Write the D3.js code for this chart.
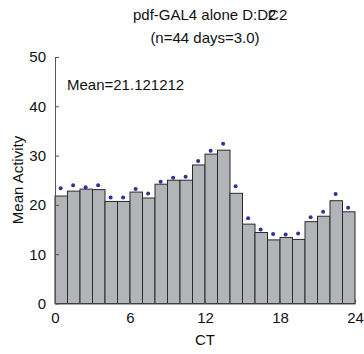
<!DOCTYPE html>
<html><head><meta charset="utf-8">
<script src="https://cdn.jsdelivr.net/npm/d3@7"></script>
<style>
html,body{margin:0;padding:0;background:#fff;}
svg{display:block;font-family:"Liberation Sans",Arial,sans-serif;}
</style></head>
<body>
<svg id="c" width="364" height="354"></svg>
<script>
const hours = d3.range(24);
const barValues = [21.8,22.8,23.2,23.1,20.7,20.7,22.6,21.4,24.2,25.0,25.0,28.1,30.3,31.1,22.35,16.1,14.4,12.9,13.4,13.0,16.6,17.7,20.85,18.6];
const dotValues = [23.4,24.0,23.6,24.0,21.5,21.5,23.2,22.3,24.7,25.5,25.7,28.9,31.0,32.4,23.8,17.3,15.0,14.1,14.0,14.2,17.5,18.6,22.2,19.4];
const xTicks = [0,6,12,18,24];
const yTicks = [0,10,20,30,40,50];
const titleLine1 = "pdf-GAL4 alone D:DC2";
const titleOverlay = "2";
const titleLine2 = "(n=44 days=3.0)";
const meanLabel = "Mean=21.121212";

const svg = d3.select("#c");
const x = d3.scaleLinear().domain([0,24]).range([55,355]);
const y = d3.scaleLinear().domain([0,50]).range([303.5,57]);

// bars
svg.append("g").selectAll("rect").data(hours).join("rect")
  .attr("x", d => x(d))
  .attr("y", d => y(barValues[d]))
  .attr("width", d => x(d+1)-x(d))
  .attr("height", d => y(0)-y(barValues[d]))
  .attr("fill", "#b3b4b8")
  .attr("stroke", "#2a2a2a")
  .attr("stroke-width", 1);

// dots
svg.append("g").selectAll("circle").data(hours).join("circle")
  .attr("cx", d => x(d+0.45))
  .attr("cy", d => y(dotValues[d]))
  .attr("r", 2)
  .attr("fill", "#2c3399");

// axes
const yAxis = d3.axisLeft(y).tickValues(yTicks).tickSizeInner(-4).tickSizeOuter(0).tickPadding(9);
const gy = svg.append("g").attr("transform","translate(55,0)").call(yAxis);
const xAxis = d3.axisBottom(x).tickValues(xTicks).tickSizeInner(-4).tickSizeOuter(0).tickPadding(9);
const gx = svg.append("g").attr("transform","translate(0,303.5)").call(xAxis);
[gx,gy].forEach(g=>{
  g.select(".domain").attr("stroke","#555");
  g.selectAll(".tick line").attr("stroke","#555");
  g.selectAll("text").attr("font-size",15).attr("fill","#111").attr("font-family","Liberation Sans, Arial, sans-serif");
});

// labels
svg.append("text").attr("x",205).attr("y",345).attr("text-anchor","middle")
  .attr("font-size",15).attr("fill","#111").text("CT");
svg.append("text").attr("transform","translate(23,180) rotate(-90)").attr("text-anchor","middle")
  .attr("font-size",15).attr("fill","#111").text("Mean Activity");
svg.append("text").attr("x",67).attr("y",90).attr("font-size",15).attr("fill","#111").text(meanLabel);

// title: main string, plus a "2" overprinted on the "C" as in the reference
const t1 = svg.append("text").attr("x",133).attr("y",20)
  .attr("font-size",15).attr("fill","#111").text(titleLine1);
const len = t1.node().getComputedTextLength();
svg.append("text").attr("x",133+len-19.5).attr("y",20)
  .attr("font-size",15).attr("fill","#111").text(titleOverlay);
svg.append("text").attr("x",205).attr("y",43).attr("text-anchor","middle")
  .attr("font-size",15).attr("fill","#111").text(titleLine2);
</script>
</body></html>
